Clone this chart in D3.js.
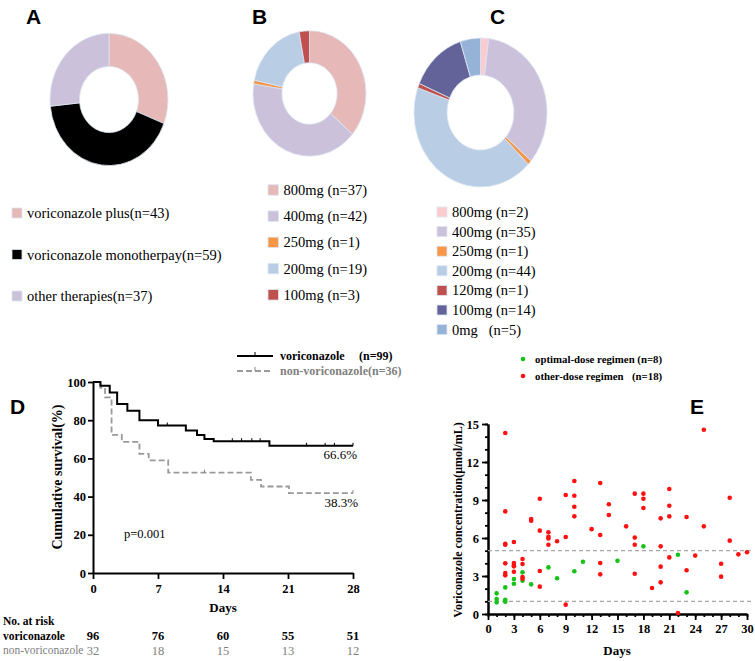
<!DOCTYPE html>
<html>
<head>
<meta charset="utf-8">
<script src="https://cdn.jsdelivr.net/npm/d3@7"></script>
<style>
body { margin: 0; background: #fff; }
svg { display: block; }
</style>
</head>
<body>
<svg id="svg1" width="755" height="661"></svg>
<script>
// panel A - therapy groups
var aLabels = ['voriconazole plus(n=43)', 'voriconazole monotherpay(n=59)', 'other therapies(n=37)'];
var aCounts = [43, 59, 37];
var aColors = ['#e6b9b8', '#000000', '#ccc1da'];

// panel B - doses
var bLabels = ['800mg (n=37)', '400mg (n=42)', '250mg (n=1)', '200mg (n=19)', '100mg (n=3)'];
var bCounts = [37, 42, 1, 19, 3];
var bColors = ['#e6b9b8', '#ccc1da', '#f79646', '#b9cde5', '#c0504d'];

// panel C - doses
var cLabels = ['800mg (n=2)', '400mg (n=35)', '250mg (n=1)', '200mg (n=44)', '120mg (n=1)', '100mg (n=14)', '0mg   (n=5)'];
var cCounts = [2, 35, 1, 44, 1, 14, 5];
var cColors = ['#fbcbcf', '#ccc1da', '#f79646', '#b9cde5', '#c0504d', '#63639a', '#95b3d7'];

// panel D - Kaplan-Meier
var voriTimes = [0, 0.8, 1.8, 2.6, 3.7, 5, 7, 10, 11.2, 12, 13, 19, 28];
var voriSurv = [100, 98, 94.5, 88.5, 85, 80, 77.2, 74.6, 72.3, 70.2, 69, 66.6, 66.6];
var voriCensor = [8, 15, 16, 17.1, 18, 23, 25, 26, 28];
var nonVoriTimes = [0, 0.8, 1.3, 2, 3.1, 5, 6, 8.1, 17, 18.1, 21.1, 28];
var nonVoriSurv = [100, 97, 92, 72.3, 68.7, 62.4, 59, 52.6, 48.8, 45.3, 41.8, 41.8];
var nonVoriCensor = [12, 28];
var riskDays = [0, 7, 14, 21, 28];
var riskVori = [96, 76, 60, 55, 51];
var riskNonVori = [32, 18, 15, 13, 12];
var kmTicksX = [0, 7, 14, 21, 28];
var kmTicksY = [0, 20, 40, 60, 80, 100];

// panel E - concentrations
var optimalDays = [1, 1, 1, 2, 2, 2, 3, 3, 4, 4, 5, 7, 8, 10, 11, 15, 18, 22, 23];
var optimalConc = [1.63, 1.18, 0.92, 2.1, 1.13, 0.97, 2.76, 2.39, 3.29, 2.63, 2.34, 3.68, 2.82, 3.37, 4.13, 4.2, 5.34, 4.68, 1.71];
var otherDays = [2, 2, 2, 2, 2, 2, 2, 3, 3, 3, 3, 3, 4, 4, 4, 4, 5, 5, 6, 6, 6, 6,
    7, 7, 7, 7, 8, 9, 9, 9, 10, 10, 10, 10, 12, 13, 13, 13, 13, 14, 14, 16,
    17, 17, 17, 17, 18, 18, 18, 19, 20, 20, 20, 20, 21, 21, 21, 21, 22, 23, 23,
    24, 25, 25, 27, 27, 28, 28, 29, 30];
var otherConc = [14.29, 8.1, 5.55, 5.47, 4.0, 3.24, 3.05, 5.68, 4.03, 3.87, 3.76, 3.34, 4.34, 3.95, 2.92, 2.79, 7.5, 7.37, 9.1, 6.58, 3.39, 2.16,
    6.45, 6.1, 5.97, 5.47, 5.74, 9.39, 6.08, 0.74, 10.5, 9.34, 8.47, 7.71, 6.7, 10.34, 6.24, 4.03, 3.13, 8.66, 7.82, 6.92,
    9.5, 6.03, 5.47, 3.18, 9.5, 9.1, 8.37, 2.05, 7.55, 5.34, 3.74, 2.5, 9.87, 8.55, 7.71, 4.47, 0.08, 7.66, 3.45,
    4.61, 14.55, 6.92, 3.97, 2.95, 9.18, 5.79, 4.71, 4.87];
var eTicksX = d3.range(0, 31, 3);
var eTicksY = d3.range(0, 16, 3);

var svg = d3.select('#svg1');
var serif = '"Liberation Serif", "Times New Roman", serif';
var sans = '"Liberation Sans", Arial, sans-serif';

function panelLabel(txt, x, y) {
    svg.append('text').attr('x', x).attr('y', y)
        .attr('font-family', sans).attr('font-weight', 'bold').attr('font-size', 21)
        .text(txt);
}

function drawDonut(counts, colors, cx, cy, rIn, rOut, ky) {
    var pie = d3.pie().sort(null).value(function (d) { return d; });
    var arc = d3.arc().innerRadius(rIn).outerRadius(rOut);
    var g = svg.append('g').attr('transform', 'translate(' + cx + ',' + cy + ') scale(1,' + ky + ')');
    g.selectAll('path').data(pie(counts)).enter().append('path')
        .attr('d', arc)
        .attr('fill', function (d, i) { return colors[i]; })
        .attr('stroke', '#dce6f2')
        .attr('stroke-width', 0.8)
        .attr('vector-effect', 'non-scaling-stroke');
}

function drawLegend(labels, colors, x, y0, step, size) {
    var g = svg.append('g');
    labels.forEach(function (lab, i) {
        var cy = y0 + i * step;
        g.append('rect').attr('x', x).attr('y', cy - size / 2)
            .attr('width', size).attr('height', size)
            .attr('fill', colors[i]).attr('stroke', '#dce6f2').attr('stroke-width', 0.8);
        g.append('text').attr('x', x + size + 5).attr('y', cy + 5)
            .attr('font-family', serif).attr('font-size', 14.5)
            .style('white-space', 'pre')
            .text(lab);
    });
}

panelLabel('A', 26, 24);
panelLabel('B', 252, 24);
panelLabel('C', 490, 24);
panelLabel('D', 10, 414);
panelLabel('E', 690, 414);

drawDonut(aCounts, aColors, 109, 99.5, 29.5, 59, 1.12);
drawDonut(bCounts, bColors, 309.5, 93.5, 27.7, 56.5, 1.11);
drawDonut(cCounts, cColors, 480.5, 112.5, 33.5, 66.5, 1.12);

drawLegend(aLabels, aColors, 12, 213, 41.5, 10);
drawLegend(bLabels, bColors, 268, 190, 26.2, 10.5);
drawLegend(cLabels, cColors, 437, 212, 19.6, 10);

// ---------- panel D ----------
var kx = d3.scaleLinear().domain([0, 28]).range([93, 353]);
var ky = d3.scaleLinear().domain([0, 100]).range([573, 382]);

function styleAxis(g) {
    g.select('.domain').attr('stroke-width', 2);
    g.selectAll('.tick line').attr('stroke-width', 1.8);
    g.selectAll('.tick text').attr('font-family', serif).attr('font-weight', 'bold').attr('font-size', 12.5).attr('fill', '#000');
}

svg.append('g').attr('transform', 'translate(0,573)')
    .call(d3.axisBottom(kx).tickValues(kmTicksX).tickSize(6).tickSizeOuter(0).tickPadding(5))
    .call(styleAxis);
svg.append('g').attr('transform', 'translate(93,0)')
    .call(d3.axisLeft(ky).tickValues(kmTicksY).tickSize(5).tickSizeOuter(0).tickPadding(2))
    .call(styleAxis);

svg.append('text').attr('transform', 'translate(62,477) rotate(-90)')
    .attr('text-anchor', 'middle').attr('font-family', serif).attr('font-weight', 'bold').attr('font-size', 14)
    .text('Cumulative survival(%)');
svg.append('text').attr('x', 223).attr('y', 612)
    .attr('text-anchor', 'middle').attr('font-family', serif).attr('font-weight', 'bold').attr('font-size', 13)
    .text('Days');

function survAt(times, surv, t) {
    var v = surv[0];
    for (var i = 0; i < times.length; i++) {
        if (times[i] <= t) v = surv[i];
    }
    return v;
}

var kmLine = d3.line().curve(d3.curveStepAfter)
    .x(function (d) { return kx(d[0]); })
    .y(function (d) { return ky(d[1]); });

svg.append('path').datum(d3.zip(nonVoriTimes, nonVoriSurv))
    .attr('d', kmLine).attr('fill', 'none')
    .attr('stroke', '#9a9a9a').attr('stroke-width', 1.8).attr('stroke-dasharray', '6,3');
svg.append('path').datum(d3.zip(voriTimes, voriSurv))
    .attr('d', kmLine).attr('fill', 'none')
    .attr('stroke', '#000').attr('stroke-width', 2);

svg.selectAll('.cv').data(voriCensor).enter().append('line')
    .attr('x1', function (d) { return kx(d); }).attr('x2', function (d) { return kx(d); })
    .attr('y1', function (d) { return ky(survAt(voriTimes, voriSurv, d)) - 3; })
    .attr('y2', function (d) { return ky(survAt(voriTimes, voriSurv, d)); })
    .attr('stroke', '#000').attr('stroke-width', 1);
svg.selectAll('.cn').data(nonVoriCensor).enter().append('line')
    .attr('x1', function (d) { return kx(d); }).attr('x2', function (d) { return kx(d); })
    .attr('y1', function (d) { return ky(survAt(nonVoriTimes, nonVoriSurv, d)) - 3; })
    .attr('y2', function (d) { return ky(survAt(nonVoriTimes, nonVoriSurv, d)); })
    .attr('stroke', '#888').attr('stroke-width', 1);

svg.append('text').attr('x', 357).attr('y', 459).attr('text-anchor', 'end')
    .attr('font-family', serif).attr('font-size', 13).text('66.6%');
svg.append('text').attr('x', 358).attr('y', 507).attr('text-anchor', 'end')
    .attr('font-family', serif).attr('font-size', 13).text('38.3%');
svg.append('text').attr('x', 124).attr('y', 538)
    .attr('font-family', serif).attr('font-size', 12.5).text('p=0.001');

// legend D, above the plot
svg.append('line').attr('x1', 237).attr('x2', 273).attr('y1', 356).attr('y2', 356)
    .attr('stroke', '#000').attr('stroke-width', 2);
svg.append('line').attr('x1', 255).attr('x2', 255).attr('y1', 352).attr('y2', 356)
    .attr('stroke', '#000').attr('stroke-width', 1);
svg.append('line').attr('x1', 237).attr('x2', 273).attr('y1', 371).attr('y2', 371)
    .attr('stroke', '#9a9a9a').attr('stroke-width', 1.8).attr('stroke-dasharray', '6,3');
svg.append('line').attr('x1', 255).attr('x2', 255).attr('y1', 367).attr('y2', 371)
    .attr('stroke', '#888').attr('stroke-width', 1);
svg.append('text').attr('x', 280).attr('y', 360)
    .attr('font-family', serif).attr('font-weight', 'bold').attr('font-size', 12).text('voriconazole');
svg.append('text').attr('x', 359).attr('y', 360)
    .attr('font-family', serif).attr('font-weight', 'bold').attr('font-size', 12).text('(n=99)');
svg.append('text').attr('x', 280).attr('y', 375).attr('fill', '#808080')
    .attr('font-family', serif).attr('font-weight', 'bold').attr('font-size', 12).text('non-voriconazole(n=36)');

// number at risk table
svg.append('text').attr('x', 3).attr('y', 625)
    .attr('font-family', serif).attr('font-weight', 'bold').attr('font-size', 11.5).text('No. at risk');
svg.append('text').attr('x', 3).attr('y', 640)
    .attr('font-family', serif).attr('font-weight', 'bold').attr('font-size', 11.5).text('voriconazole');
svg.append('text').attr('x', 3).attr('y', 654).attr('fill', '#808080')
    .attr('font-family', serif).attr('font-size', 11.5).text('non-voriconazole');
svg.selectAll('.rv').data(riskVori).enter().append('text')
    .attr('x', function (d, i) { return kx(riskDays[i]); }).attr('y', 640)
    .attr('text-anchor', 'middle').attr('font-family', serif).attr('font-weight', 'bold').attr('font-size', 12.5)
    .text(function (d) { return d; });
svg.selectAll('.rn').data(riskNonVori).enter().append('text')
    .attr('x', function (d, i) { return kx(riskDays[i]); }).attr('y', 655)
    .attr('text-anchor', 'middle').attr('fill', '#808080').attr('font-family', serif).attr('font-size', 12.5)
    .text(function (d) { return d; });

// ---------- panel E ----------
var ex = d3.scaleLinear().domain([0, 30]).range([488, 747]);
var ey = d3.scaleLinear().domain([0, 15]).range([614, 424]);

svg.append('g').attr('transform', 'translate(0,614)')
    .call(d3.axisBottom(ex).tickValues(d3.range(0, 31, 1)).tickSize(3).tickSizeOuter(0).tickFormat(''))
    .call(styleAxis);
svg.append('g').attr('transform', 'translate(0,614)')
    .call(d3.axisBottom(ex).tickValues(eTicksX).tickSize(6).tickSizeOuter(0).tickPadding(4))
    .call(styleAxis);
svg.append('g').attr('transform', 'translate(488,0)')
    .call(d3.axisLeft(ey).tickValues(d3.range(0, 16, 1)).tickSize(3).tickSizeOuter(0).tickFormat(''))
    .call(styleAxis);
svg.append('g').attr('transform', 'translate(488,0)')
    .call(d3.axisLeft(ey).tickValues(eTicksY).tickSize(6).tickSizeOuter(0).tickPadding(3))
    .call(styleAxis);

svg.selectAll('.ref').data([5, 1]).enter().append('line')
    .attr('x1', ex(0)).attr('x2', 752)
    .attr('y1', function (d) { return ey(d); }).attr('y2', function (d) { return ey(d); })
    .attr('stroke', '#a6a6a6').attr('stroke-width', 1.2).attr('stroke-dasharray', '4,3');

svg.append('text').attr('transform', 'translate(462,520) rotate(-90)')
    .attr('text-anchor', 'middle').attr('font-family', serif).attr('font-weight', 'bold').attr('font-size', 12)
    .text('Voriconazole concentration(\u03bcmol/mL)');
svg.append('text').attr('x', 617).attr('y', 655)
    .attr('text-anchor', 'middle').attr('font-family', serif).attr('font-weight', 'bold').attr('font-size', 13)
    .text('Days');

svg.selectAll('.opt').data(d3.zip(optimalDays, optimalConc)).enter().append('circle')
    .attr('cx', function (d) { return ex(d[0]); }).attr('cy', function (d) { return ey(d[1]); })
    .attr('r', 2.3).attr('fill', '#16c216');
svg.selectAll('.oth').data(d3.zip(otherDays, otherConc)).enter().append('circle')
    .attr('cx', function (d) { return ex(d[0]); }).attr('cy', function (d) { return ey(d[1]); })
    .attr('r', 2.3).attr('fill', '#ff1010');

// legend E, above the plot
svg.append('circle').attr('cx', 523).attr('cy', 359).attr('r', 2.3).attr('fill', '#16c216');
svg.append('circle').attr('cx', 523).attr('cy', 376).attr('r', 2.3).attr('fill', '#ff1010');
svg.append('text').attr('x', 535).attr('y', 363)
    .attr('font-family', serif).attr('font-weight', 'bold').attr('font-size', 10.8).text('optimal-dose regimen (n=8)');
svg.append('text').attr('x', 535).attr('y', 380)
    .attr('font-family', serif).attr('font-weight', 'bold').attr('font-size', 10.8).text('other-dose regimen');
svg.append('text').attr('x', 632).attr('y', 380)
    .attr('font-family', serif).attr('font-weight', 'bold').attr('font-size', 10.8).text('(n=18)');
</script>
</body>
</html>
